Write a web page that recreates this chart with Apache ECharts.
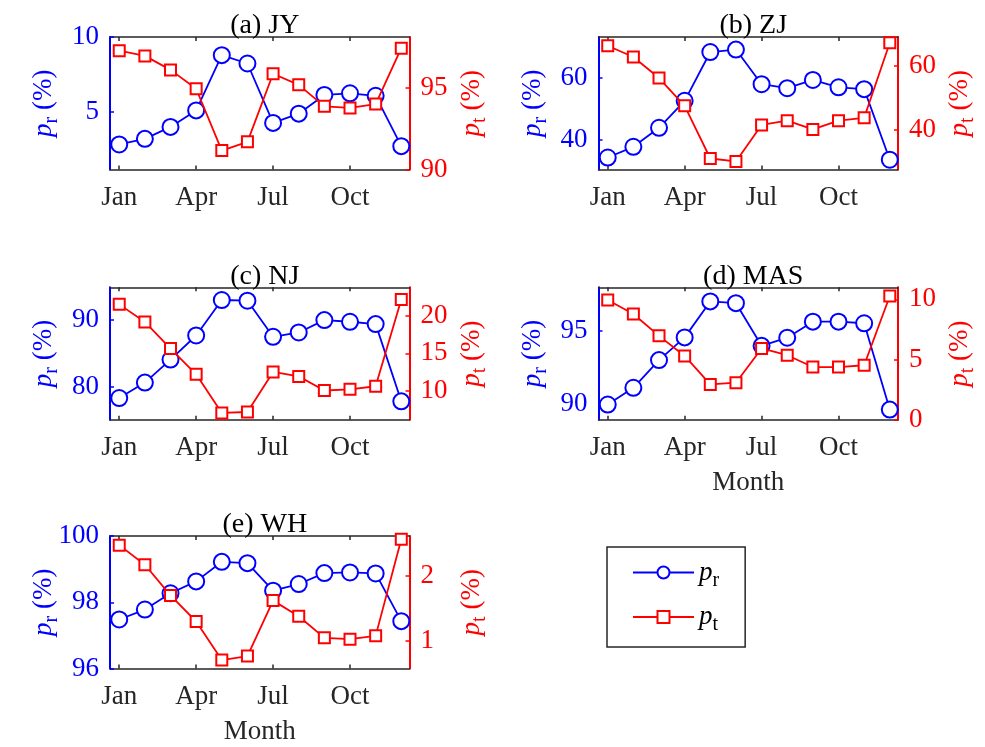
<!DOCTYPE html>
<html>
<head>
<meta charset="utf-8">
<script src="https://cdn.jsdelivr.net/npm/echarts@6/dist/echarts.min.js"></script>
<style>
html,body{margin:0;padding:0;background:#fff;}
#chart{width:985px;height:747px;}
</style>
</head>
<body>
<div id="chart"></div>
<script>
// ---------------- data ----------------
const months = [1,2,3,4,5,6,7,8,9,10,11,12];
const xTickValues = [1,4,7,10];
const xTickLabels = ['Jan','Apr','Jul','Oct'];

const panelTitles = ['(a) JY','(b) ZJ','(c) NJ','(d) MAS','(e) WH'];

const prJY  = [2.78,3.16,3.96,5.07,8.78,8.22,4.23,4.85,6.11,6.22,6.05,2.67];
const ptJY  = [97.30,96.98,96.12,94.96,91.16,91.70,95.88,95.20,93.88,93.78,94.02,97.45];
const prZJ  = [34.1,37.6,43.8,52.6,68.5,69.3,58.0,56.7,59.4,57.0,56.4,33.4];
const ptZJ  = [66.1,62.6,56.1,47.5,31.2,30.3,41.6,42.9,40.2,42.9,43.8,67.0];
const prNJ  = [78.35,80.66,84.1,87.7,93.0,92.9,87.5,88.15,90.0,89.75,89.4,77.86];
const ptNJ  = [21.6,19.23,15.65,12.18,6.97,7.1,12.5,11.9,10.0,10.16,10.57,22.25];
const prMAS = [89.95,91.1,93.0,94.56,97.03,96.91,93.98,94.54,95.64,95.64,95.53,89.6];
const ptMAS = [9.94,8.78,6.97,5.3,2.94,3.08,5.92,5.36,4.38,4.38,4.53,10.28];
const prWH  = [97.48,97.78,98.27,98.63,99.22,99.18,98.35,98.55,98.88,98.9,98.87,97.43];
const ptWH  = [2.47,2.17,1.70,1.30,0.71,0.77,1.62,1.38,1.05,1.03,1.08,2.56];

// tick values for left (pr) and right (pt) axes
const prTicks = [[5,10],[40,60],[80,90],[90,95],[96,98,100]];
const ptTicks = [[90,95],[40,60],[10,15,20],[0,5,10],[1,2]];
// axis extents
const prRange = [[1.1,10],[30.2,73.4],[75.1,94.9],[88.9,98.0],[96,100]];
const ptRange = [[90,98.14],[27.8,68.8],[6.05,23.9],[0,11],[0.58,2.61]];
const xRange = [0.64,12.32];

const prAll = [prJY,prZJ,prNJ,prMAS,prWH];
const ptAll = [ptJY,ptZJ,ptNJ,ptMAS,ptWH];

// ---------------- layout ----------------
const FONT = 'Liberation Serif';
const BLUE = '#0000ff', RED = '#ff0000', DARK = '#262626';
const FS = 27;
const W = 299.5, H = 132.5;
const pos = [[110,37],[598.5,37],[110,287.3],[598.5,287.3],[110,536]];
const showMonth = [false,false,false,true,true];

const rich = {
  p: {fontFamily: FONT, fontStyle: 'italic', fontSize: FS},
  s: {fontFamily: FONT, fontSize: 20, padding: [16,0,0,0]}
};

const grids = [], xAxes = [], yAxes = [], series = [], titles = [];
pos.forEach((p, i) => {
  grids.push({left: p[0], top: p[1], width: W, height: H, containLabel: false});
  titles.push({
    text: panelTitles[i], left: p[0] + W/2, top: p[1] - 30, textAlign: 'center',
    textStyle: {fontFamily: FONT, fontSize: 28, fontWeight: 'normal', color: '#000'}
  });
  xAxes.push({
    type: 'value', gridIndex: i, position: 'bottom', min: xRange[0], max: xRange[1],
    axisLine: {onZero: false, lineStyle: {color: DARK, width: 1.5}},
    axisTick: {inside: true, length: 4, customValues: xTickValues, lineStyle: {color: DARK, width: 1.5}},
    axisLabel: {customValues: xTickValues, margin: 15, fontFamily: FONT, fontSize: FS, color: DARK,
      formatter: v => xTickLabels[xTickValues.indexOf(v)] || ''},
    splitLine: {show: false},
    name: showMonth[i] ? 'Month' : '', nameLocation: 'middle', nameGap: 50, nameMoveOverlap: false,
    nameTextStyle: {fontFamily: FONT, fontSize: FS, color: DARK}
  });
  xAxes.push({
    type: 'value', gridIndex: i, position: 'top', min: xRange[0], max: xRange[1],
    axisLine: {onZero: false, lineStyle: {color: DARK, width: 1.5}},
    axisTick: {inside: true, length: 4, customValues: xTickValues, lineStyle: {color: DARK, width: 1.5}},
    axisLabel: {show: false},
    splitLine: {show: false}
  });
  yAxes.push({
    type: 'value', gridIndex: i, position: 'left', min: prRange[i][0], max: prRange[i][1],
    axisLine: {show: true, onZero: false, lineStyle: {color: BLUE, width: 2}},
    axisTick: {show: true, inside: true, length: 4, customValues: prTicks[i], lineStyle: {color: BLUE, width: 1.5}},
    axisLabel: {customValues: prTicks[i], margin: 11, fontFamily: FONT, fontSize: FS, color: BLUE},
    splitLine: {show: false},
    name: '{p|p}{s|r} (%)', nameLocation: 'middle', nameGap: 48, nameRotate: 90, nameMoveOverlap: false,
    nameTextStyle: {fontFamily: FONT, fontSize: FS, color: BLUE, rich: rich}
  });
  yAxes.push({
    type: 'value', gridIndex: i, position: 'right', min: ptRange[i][0], max: ptRange[i][1],
    axisLine: {show: true, onZero: false, lineStyle: {color: RED, width: 2}},
    axisTick: {show: true, inside: true, length: 4, customValues: ptTicks[i], lineStyle: {color: RED, width: 1.5}},
    axisLabel: {customValues: ptTicks[i], margin: 11, fontFamily: FONT, fontSize: FS, color: RED},
    splitLine: {show: false},
    name: '{p|p}{s|t} (%)', nameLocation: 'middle', nameGap: 44, nameRotate: 90, nameMoveOverlap: false,
    nameTextStyle: {fontFamily: FONT, fontSize: FS, color: RED, rich: rich}
  });
  series.push({
    name: 'pr', type: 'line', xAxisIndex: 2*i, yAxisIndex: 2*i,
    data: months.map((m, k) => [m, prAll[i][k]]),
    symbol: 'emptyCircle', symbolSize: 16,
    lineStyle: {color: BLUE, width: 1.8},
    itemStyle: {color: BLUE, borderColor: BLUE, borderWidth: 1.8},
    emphasis: {disabled: true}, animation: false, z: 2
  });
  series.push({
    name: 'pt', type: 'line', xAxisIndex: 2*i, yAxisIndex: 2*i+1,
    data: months.map((m, k) => [m, ptAll[i][k]]),
    symbol: 'emptyRect', symbolSize: 11,
    lineStyle: {color: RED, width: 1.8},
    itemStyle: {color: RED, borderColor: RED, borderWidth: 1.8},
    emphasis: {disabled: true}, animation: false, z: 3
  });
});

const chart = echarts.init(document.getElementById('chart'), null, {renderer: 'canvas'});
chart.setOption({
  backgroundColor: '#fff',
  animation: false,
  title: titles,
  grid: grids,
  xAxis: xAxes,
  yAxis: yAxes,
  series: series,
  legend: {
    data: ['pr','pt'], orient: 'vertical', left: 607, top: 547,
    itemWidth: 61, itemHeight: 15, itemGap: 13,
    padding: [12, 26, 12, 25],
    borderColor: DARK, borderWidth: 1.5, backgroundColor: '#fff',
    formatter: n => n === 'pr' ? '{p|p}{s|r}' : '{p|p}{s|t}',
    textStyle: {fontFamily: FONT, fontSize: FS, color: '#000', rich: rich}
  }
});
</script>
</body>
</html>
